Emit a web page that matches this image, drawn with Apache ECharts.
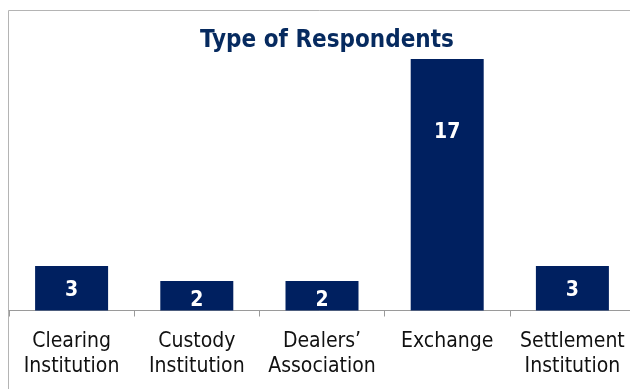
<!DOCTYPE html>
<html>
<head>
<meta charset="utf-8">
<script src="https://cdn.jsdelivr.net/npm/echarts@6/dist/echarts.min.js"></script>
<style>
  html, body { margin: 0; padding: 0; background: #fff; }
  #chart { width: 630px; height: 389px; }
</style>
</head>
<body>
<div id="chart"></div>
<script>
// Respondents by institution type
const categories = [
  'Clearing\nInstitution',
  'Custody\nInstitution',
  'Dealers\u2019\nAssociation',
  'Exchange',
  'Settlement\nInstitution'
];
const respondents = [3, 2, 2, 17, 3];

// How far each value label sits below the top of its bar (px)
const labelDrop = [14, 9, 9, 63, 14];

const navy = '#002060';
const chart = echarts.init(document.getElementById('chart'), null, { renderer: 'canvas' });

chart.setOption({
  animation: false,
  title: {
    text: 'Type of Respondents',
    left: 322,
    textAlign: 'center',
    top: 24,
    textStyle: {
      fontFamily: 'DejaVu Sans Condensed',
      fontWeight: 'bold',
      fontSize: 24,
      color: '#062A5F'
    }
  },
  graphic: [{
    type: 'rect',
    shape: { x: 8.5, y: 10.5, width: 700, height: 500 },
    style: { fill: 'none', stroke: '#B4B4B4', lineWidth: 1 },
    silent: true,
    z: 0
  }],
  grid: {
    left: 9, width: 626, top: 14.5, bottom: 78.5,
    containLabel: false,
    outerBoundsMode: 'none'
  },
  xAxis: {
    type: 'category',
    data: categories,
    axisLine: { lineStyle: { color: '#9A9A9A', width: 1 } },
    axisTick: { show: true, alignWithLabel: false, length: 6, lineStyle: { color: '#9A9A9A' } },
    axisLabel: {
      interval: 0,
      margin: 19,
      color: '#111',
      fontFamily: 'DejaVu Sans Condensed',
      fontSize: 21,
      lineHeight: 25
    }
  },
  yAxis: {
    type: 'value',
    min: 0,
    max: 20,
    show: false,
    splitLine: { show: false }
  },
  series: [{
    type: 'bar',
    barWidth: 73,
    data: respondents.map((v, i) => ({
      value: v,
      label: { distance: labelDrop[i] }
    })),
    itemStyle: { color: navy },
    label: {
      show: true,
      position: 'insideTop',
      color: '#fff',
      fontFamily: 'DejaVu Sans Condensed',
      fontWeight: 'bold',
      fontSize: 21
    }
  }]
});
</script>
</body>
</html>
